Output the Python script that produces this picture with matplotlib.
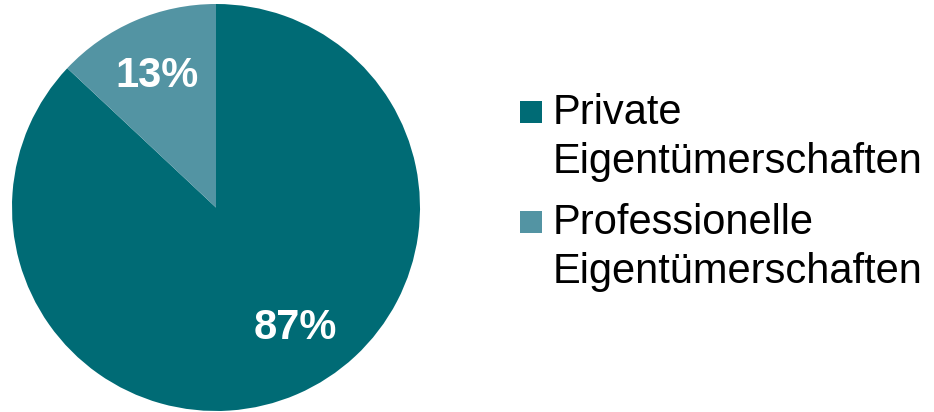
import matplotlib
matplotlib.use("Agg")
import matplotlib.pyplot as plt
from matplotlib.patches import Rectangle

categories = ["Private\nEigentümerschaften", "Professionelle\nEigentümerschaften"]
values = [87, 13]
colors = ["#006b75", "#5394a3"]
value_labels = ["87%", "13%"]

plt.rcParams['font.family'] = ['Liberation Sans', 'DejaVu Sans']

W, H = 934, 412
fig = plt.figure(figsize=(W / 100, H / 100), dpi=100)
ax = fig.add_axes([12 / W, 1 / H, 408 / W, 407 / H])
wedges, _ = ax.pie(values, colors=colors, startangle=90, counterclock=False,
                   radius=1.0, wedgeprops=dict(linewidth=0))
ax.set_xlim(-1, 1)
ax.set_ylim(-1, 1)
ax.set_aspect('auto')
ax.axis('off')

label_pos = [(0.387, -0.59), (-0.289, 0.648)]
for txt, (x, y) in zip(value_labels, label_pos):
    ax.text(x, y, txt, ha='center', va='center', color='white',
            fontsize=30, fontweight='bold')

# legend (manual)
first_baselines = [124, 234]
line_step = 49
for cat, col, b in zip(categories, colors, first_baselines):
    fig.patches.append(Rectangle((520 / W, (H - (b - 1.5)) / H), 22 / W, 22 / H,
                                 transform=fig.transFigure, facecolor=col,
                                 edgecolor='none'))
    for i, line in enumerate(cat.split("\n")):
        fig.text(553 / W, (H - (b + i * line_step)) / H, line,
                 ha='left', va='baseline', fontsize=30, color='black')

fig.savefig("out.png", dpi=100)
